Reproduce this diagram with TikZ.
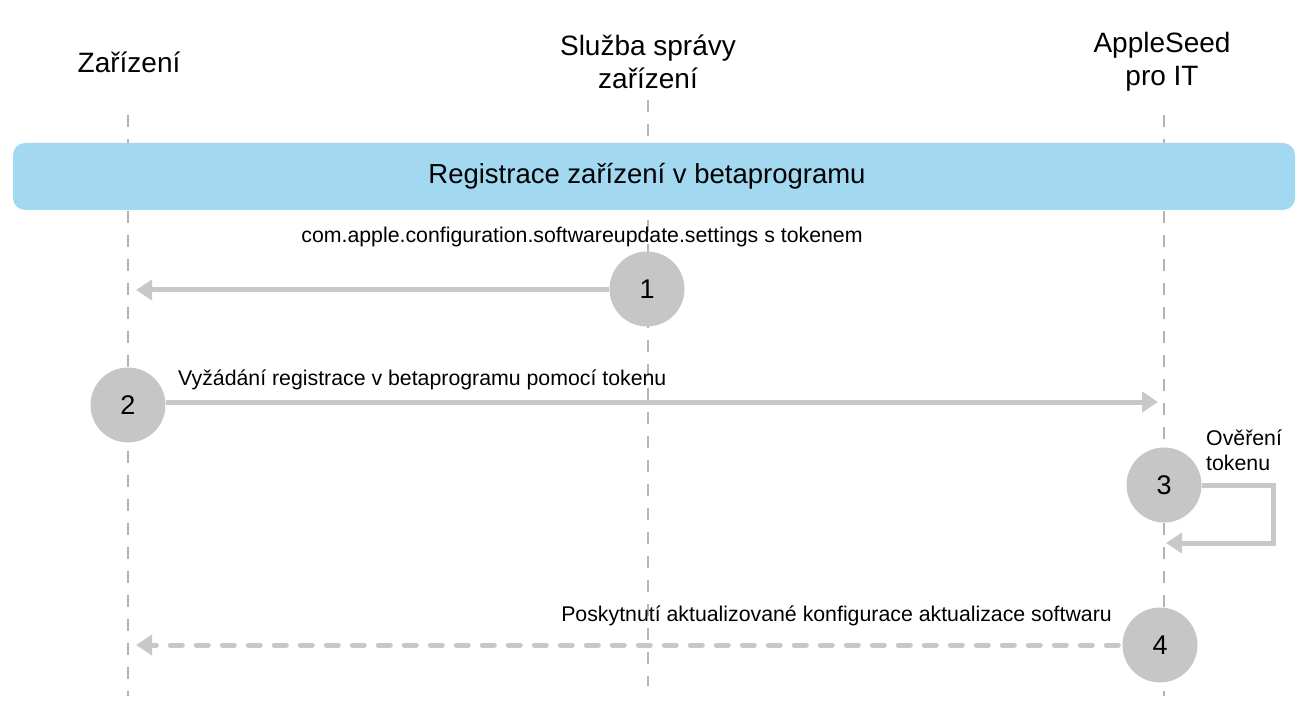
\documentclass[tikz,border=0pt]{standalone}
\usepackage{fontspec}
\setmainfont{Liberation Sans}
\usetikzlibrary{arrows.meta}
\definecolor{banner}{HTML}{A3D9F0}
\definecolor{circ}{HTML}{C6C6C6}
\definecolor{arr}{HTML}{C8C8C8}
\definecolor{life}{HTML}{B4B4B4}
\begin{document}
\begin{tikzpicture}[x=1pt,y=-1pt,
  header/.style={font=\fontsize{28}{33}\selectfont, align=center, text=black},
  lbl/.style={font=\fontsize{21.3}{25}\selectfont, text=black, inner sep=0pt},
  stepcirc/.style={circle, fill=circ, minimum size=75pt, inner sep=0pt, font=\fontsize{27}{30}\selectfont},
  lifeline/.style={draw=life, line width=1.5pt, dash pattern=on 12pt off 12pt},
  msg/.style={draw=arr, line width=5pt, -{Triangle[length=16pt,width=20pt]}},
  dmsg/.style={msg, line cap=round, dash pattern=on 12pt off 14pt}
]
\useasboundingbox (0,0) rectangle (1303,708);
% headers
\node[header] (hA) at (129,62) {Zařízení};
\node[header] (hB) at (648,62) {Služba správy\\zařízení};
\node[header] (hC) at (1162,62) {AppleSeed\\pro IT};
% lifelines
\coordinate (a0) at (128,115); \coordinate (a1) at (128,696);
\coordinate (b0) at (648,100); \coordinate (b1) at (648,686);
\coordinate (c0) at (1164,115); \coordinate (c1) at (1164,696);
\draw[lifeline] (a0) -- (a1);
\draw[lifeline] (b0) -- (b1);
\draw[lifeline] (c0) -- (c1);
% banner
\node[fill=banner, rounded corners=12pt, minimum width=1282pt, minimum height=67pt] (ban) at (654,176.5) {};
\node[font=\fontsize{27.5}{30}\selectfont, text=black] (bantext) at (647,176.5) {Registrace zařízení v betaprogramu};
% circles
\node[stepcirc] (s1) at (647,289) {1};
\node[stepcirc] (s2) at (128,405) {2};
\node[stepcirc] (s3) at (1164,485) {3};
\node[stepcirc] (s4) at (1160,645) {4};
% endpoints
\coordinate (e1) at (136,290);
\coordinate (e2) at (1158,402);
\coordinate (k1) at (1273,485);
\coordinate (k2) at (1273,543);
\coordinate (e3) at (1166,543);
\coordinate (e4) at (136,645);
% arrows
\draw[msg] (s1.west |- e1) -- (e1);
\draw[msg] (s2.east |- e2) -- (e2);
\draw[msg] (s3.east) -- (k1) -- (k2) -- (e3);
\draw[dmsg] ([xshift=-4pt]s4.west) -- (e4);
% labels
\node[lbl] (l1) at (582,237) {com.apple.configuration.softwareupdate.settings s tokenem};
\node[lbl, anchor=west] (l2) at (178,380) {Vyžádání registrace v betaprogramu pomocí tokenu};
\node[lbl, anchor=west, align=left] (l3) at (1206,450) {Ověření\\tokenu};
\node[lbl, anchor=east] (l4) at (1112,616) {Poskytnutí aktualizované konfigurace aktualizace softwaru};
\end{tikzpicture}
\end{document}
